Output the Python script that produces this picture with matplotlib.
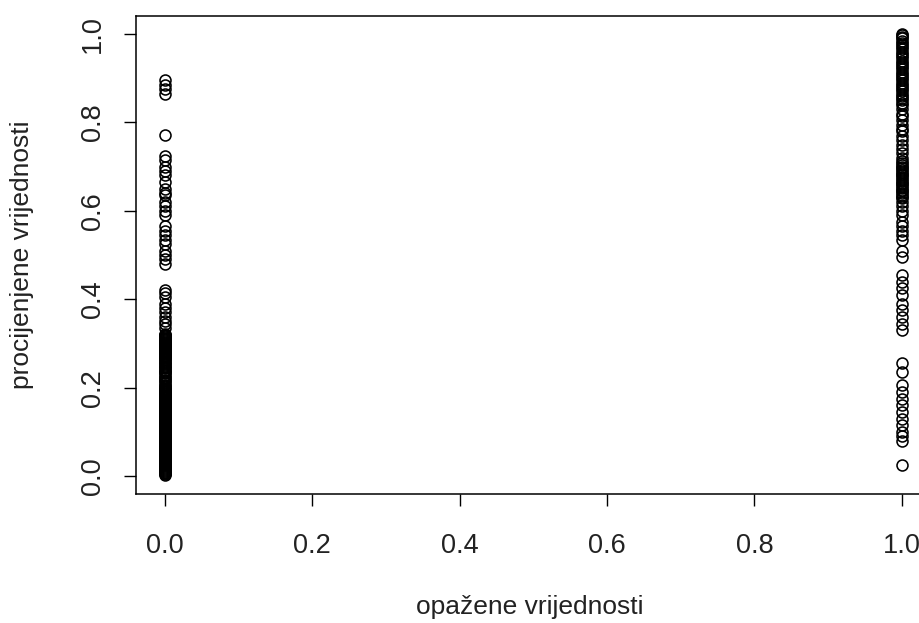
import numpy as np
import matplotlib
matplotlib.use("Agg")
import matplotlib.pyplot as plt

plt.rcParams.update({
    'font.family': ['Liberation Sans', 'DejaVu Sans'],
})

# observed values (x) and fitted probabilities (y), read off the picture
# observed = 0
fitted_obs0_upper = [
    0.895, 0.885, 0.875, 0.865, 0.771,
    0.725, 0.715, 0.700, 0.690, 0.680, 0.665, 0.650, 0.640, 0.635, 0.620,
    0.610, 0.600, 0.590, 0.565, 0.555, 0.545, 0.535, 0.525, 0.510, 0.500,
    0.490, 0.480, 0.420, 0.415, 0.405, 0.390, 0.380, 0.370, 0.360, 0.350,
    0.345, 0.335,
]
fitted_obs0_dense = [
    0.002, 0.004, 0.006, 0.008, 0.010, 0.012, 0.014, 0.016, 0.018, 0.020,
    0.022, 0.024, 0.026, 0.028, 0.030, 0.032, 0.034, 0.036, 0.038, 0.040,
    0.042, 0.044, 0.046, 0.048, 0.050, 0.052, 0.054, 0.056, 0.058, 0.060,
    0.062, 0.064, 0.066, 0.068, 0.070, 0.072, 0.074, 0.076, 0.078, 0.080,
    0.082, 0.084, 0.086, 0.088, 0.090, 0.092, 0.094, 0.096, 0.098, 0.100,
    0.102, 0.104, 0.106, 0.108, 0.110, 0.112, 0.114, 0.116, 0.118, 0.120,
    0.122, 0.124, 0.126, 0.128, 0.130, 0.132, 0.134, 0.136, 0.138, 0.140,
    0.142, 0.144, 0.146, 0.148, 0.150, 0.152, 0.154, 0.156, 0.158, 0.160,
    0.162, 0.164, 0.166, 0.168, 0.170, 0.172, 0.174, 0.176, 0.178, 0.180,
    0.182, 0.184, 0.186, 0.188, 0.190, 0.192, 0.194, 0.196, 0.198, 0.201,
    0.204, 0.207, 0.211, 0.214, 0.217, 0.221, 0.224, 0.228, 0.232, 0.235,
    0.238, 0.241, 0.244, 0.247, 0.250, 0.253, 0.256, 0.259, 0.262, 0.265,
    0.268, 0.270, 0.272, 0.274, 0.276, 0.278, 0.280, 0.282, 0.284, 0.286,
    0.288, 0.290, 0.292, 0.294, 0.296, 0.298, 0.300, 0.302, 0.304, 0.306,
    0.308, 0.310, 0.312, 0.314, 0.316, 0.318, 0.320, 0.322,
]
# observed = 1
fitted_obs1 = [
    1.000, 0.997, 0.993, 0.990, 0.985, 0.980, 0.975, 0.970, 0.965, 0.960,
    0.955, 0.950, 0.945, 0.940, 0.935, 0.930, 0.925, 0.920, 0.915, 0.910,
    0.905, 0.900, 0.895, 0.890, 0.885, 0.880, 0.875, 0.870, 0.865, 0.860,
    0.855, 0.850, 0.845, 0.840, 0.830, 0.820, 0.815, 0.805, 0.795, 0.785,
    0.780, 0.770, 0.760, 0.750, 0.740, 0.730, 0.720, 0.712, 0.708, 0.704,
    0.700, 0.696, 0.692, 0.688, 0.684, 0.680, 0.676, 0.672, 0.668, 0.664,
    0.660, 0.656, 0.652, 0.648, 0.644, 0.640, 0.636, 0.632, 0.628, 0.620,
    0.610, 0.600, 0.590, 0.575, 0.565, 0.555, 0.545, 0.535, 0.510, 0.495,
    0.455, 0.440, 0.425, 0.410, 0.390, 0.375, 0.360, 0.345, 0.330, 0.255,
    0.235, 0.205, 0.190, 0.175, 0.160, 0.145, 0.130, 0.115, 0.100, 0.090,
    0.080, 0.025,
]

y0 = fitted_obs0_upper + fitted_obs0_dense
y1 = fitted_obs1
x = [0.0] * len(y0) + [1.0] * len(y1)
y = y0 + y1

ticks = [0.0, 0.2, 0.4, 0.6, 0.8, 1.0]

fig = plt.figure(figsize=(9.2, 6.23), dpi=100)
# R-style plot region; the right edge of the box falls outside the crop
ax = fig.add_axes([0.1473, 0.2075, 0.865, 0.7663])

ax.plot(x, y, 'o', mfc='none', mec='black', ms=7.9, mew=1.15)

ax.set_xlim(-0.04, 1.04)
ax.set_ylim(-0.04, 1.04)
ax.set_xticks(ticks)
ax.set_yticks(ticks)
ax.set_xticklabels([f'{t:.1f}' for t in ticks])
ax.set_yticklabels([f'{t:.1f}' for t in ticks], rotation=90, va='center')

for s in ax.spines.values():
    s.set_linewidth(1.1)
ax.tick_params(axis='both', length=8.5, width=1.0, labelsize=19.5,
               colors='black', labelcolor='#222222')
ax.tick_params(axis='x', pad=20)
ax.tick_params(axis='y', pad=13)

ax.set_xlabel('opažene vrijednosti', fontsize=19, color='#222222')
ax.set_ylabel('procijenjene vrijednosti', fontsize=19, color='#222222')
ax.xaxis.set_label_coords(0.4956, -0.237)
ax.xaxis.label.set_va('center')
ax.yaxis.set_label_coords(-0.1426, 0.5)
ax.yaxis.label.set_va('center')

fig.savefig('out.png', dpi=100)
